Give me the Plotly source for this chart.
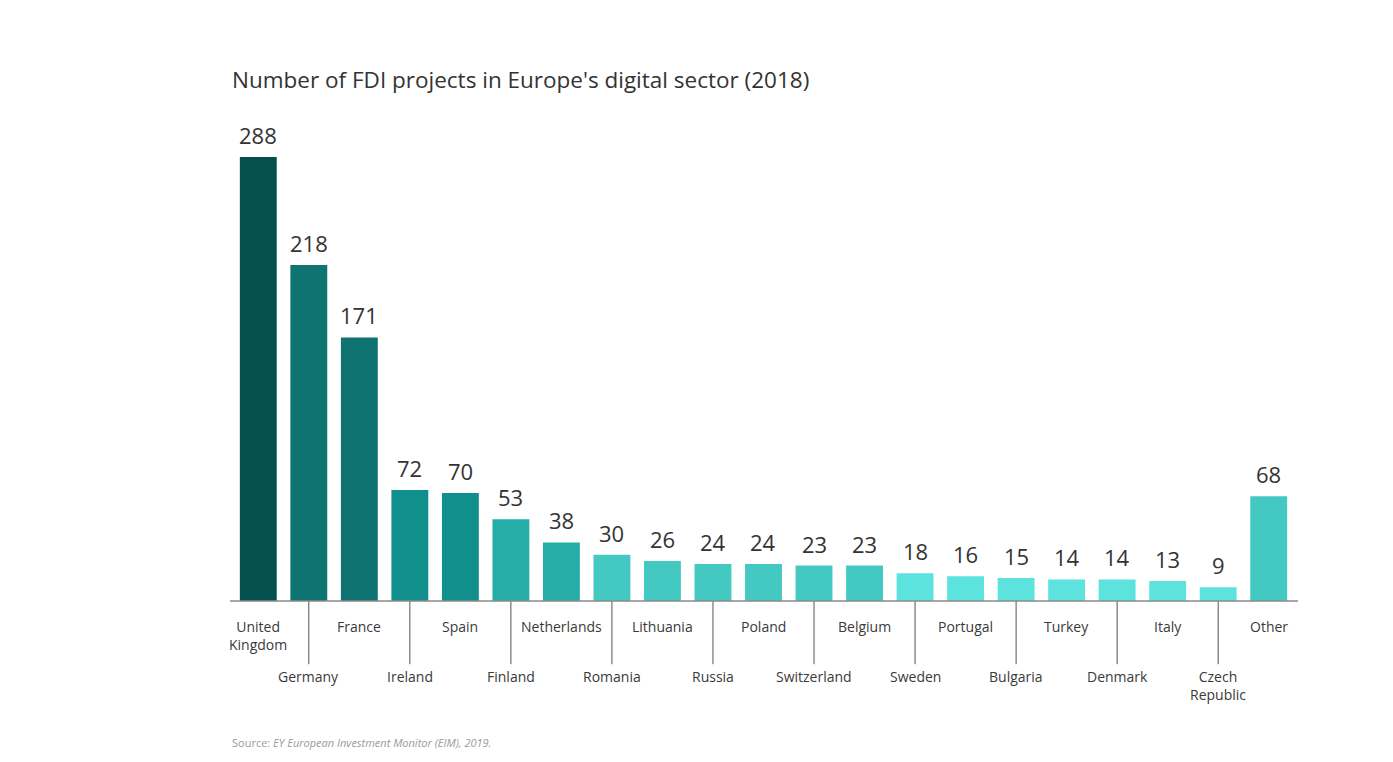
import plotly.graph_objects as go

countries = ["United Kingdom", "Germany", "France", "Ireland", "Spain", "Finland",
             "Netherlands", "Romania", "Lithuania", "Russia", "Poland", "Switzerland",
             "Belgium", "Sweden", "Portugal", "Bulgaria", "Turkey", "Denmark", "Italy",
             "Czech Republic", "Other"]
tick_labels = ["United<br>Kingdom", "Germany", "France", "Ireland", "Spain", "Finland",
               "Netherlands", "Romania", "Lithuania", "Russia", "Poland", "Switzerland",
               "Belgium", "Sweden", "Portugal", "Bulgaria", "Turkey", "Denmark", "Italy",
               "Czech<br>Republic", "Other"]
projects = [288, 218, 171, 72, 70, 53, 38, 30, 26, 24, 24, 23, 23, 18, 16, 15, 14, 14, 13, 9, 68]
bar_colors = ["#03504F", "#0F7372", "#0F7372", "#118F8D", "#118F8D", "#27ADA8",
              "#27ADA8", "#43C9C2", "#43C9C2", "#43C9C2", "#43C9C2", "#43C9C2",
              "#43C9C2", "#5DE3DE", "#5DE3DE", "#5DE3DE", "#5DE3DE", "#5DE3DE",
              "#5DE3DE", "#5DE3DE", "#43C9C2"]

FONT = "Open Sans"

fig = go.Figure(go.Bar(x=countries, y=projects, marker_color=bar_colors,
                       marker_line_width=0, hoverinfo="x+y"))

# value labels above bars
for c, v in zip(countries, projects):
    fig.add_annotation(x=c, y=v, text=str(v), showarrow=False, yanchor="bottom",
                       yshift=5, font=dict(family=FONT, size=22, color="#333333"))

# staggered category labels, lower row hangs from thin tick lines
for i, (c, lab) in enumerate(zip(countries, tick_labels)):
    if i % 2 == 0:
        fig.add_annotation(x=c, y=-9, text=lab, showarrow=False, yanchor="top",
                           font=dict(family=FONT, size=14, color="#3a3a3a"))
    else:
        fig.add_shape(type="line", x0=c, x1=c, y0=0, y1=-41,
                      line=dict(color="#555555", width=1))
        fig.add_annotation(x=c, y=-41.5, text=lab, showarrow=False, yanchor="top",
                           font=dict(family=FONT, size=14, color="#3a3a3a"))

# baseline
fig.add_shape(type="line", xref="paper", x0=0, x1=1, y0=0, y1=0,
              line=dict(color="#8a8a8a", width=1.5))

fig.add_annotation(xref="paper", yref="paper", x=0, y=1.0676, xanchor="left",
                   yanchor="middle",
                   text="Number of FDI projects in Europe's digital sector (2018)",
                   showarrow=False, font=dict(family=FONT, size=22.5, color="#333333"))
fig.add_annotation(xref="paper", yref="paper", x=0, y=-0.052, xanchor="left",
                   yanchor="middle",
                   text="Source: <i>EY European Investment Monitor (EIM), 2019.</i>",
                   showarrow=False, font=dict(family=FONT, size=11, color="#9a9a9a"))

fig.update_layout(
    width=1393, height=762,
    margin=dict(l=222, r=103, t=112, b=58),
    plot_bgcolor="white", paper_bgcolor="white",
    bargap=0.27, showlegend=False,
    xaxis=dict(range=[-0.56, 20.58], showticklabels=False, showgrid=False,
               zeroline=False, showline=False, ticks=""),
    yaxis=dict(range=[-72, 312], visible=False),
)

fig.write_html("out.html")
